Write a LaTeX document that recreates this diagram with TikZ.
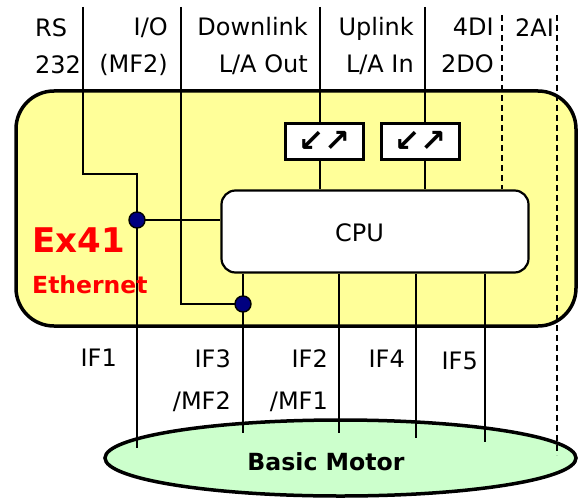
\documentclass[tikz,border=0pt]{standalone}
\usepackage{fontspec}
\setmainfont{DejaVu Sans}
\usetikzlibrary{shapes.geometric}
\definecolor{boxyellow}{HTML}{FFFF99}
\definecolor{motorgreen}{HTML}{CCFFCC}
\definecolor{dotblue}{HTML}{000080}
\begin{document}
\begin{tikzpicture}[x=1pt,y=-1pt,
  lbl/.style={font=\fontsize{24}{37}\selectfont, inner sep=0pt},
  lblb/.style={font=\fontsize{24}{42}\selectfont, inner sep=0pt},
  wire/.style={line width=2pt},
  dwire/.style={line width=2pt, dash pattern=on 6pt off 4pt},
  smallbox/.style={draw, line width=2.2pt, fill=white, minimum width=78pt, minimum height=36pt, inner sep=0pt, font=\bfseries\fontsize{31}{31}\selectfont},
  jdot/.style={circle, draw, line width=1.4pt, fill=dotblue, minimum size=16pt, inner sep=0pt}]
\useasboundingbox (0,0) rectangle (580,500);
% main module
\node[draw, line width=3.5pt, fill=boxyellow, rounded corners=38pt, minimum width=560pt, minimum height=235pt, inner sep=0pt] (ex) at (296,208.5) {};
% motor
\node[ellipse, draw, line width=3.5pt, fill=motorgreen, minimum width=471pt, minimum height=76pt, inner sep=0pt] (motor) at (340.5,458) {};
% cpu and link boxes
\node[draw, line width=2.2pt, fill=white, rounded corners=14pt, minimum width=307pt, minimum height=82pt, inner sep=0pt] (cpu) at (375,231.5) {};
\node[smallbox] (b1) at (324.5,141.5) {↙↗};
\node[smallbox] (b2) at (420.5,141.5) {↙↗};
% coordinates
\coordinate (t1) at (83,7);
\coordinate (t2) at (181,7);
\coordinate (t3) at (320,7);
\coordinate (t4) at (425,7);
\coordinate (t5) at (502,15);
\coordinate (t6) at (557,15);
\coordinate (c1) at (137,220);
\coordinate (c2) at (243,304);
\coordinate (e1) at (137,448);
\coordinate (e2) at (243,433);
\coordinate (e3) at (339,433);
\coordinate (e4) at (416,438);
\coordinate (e5) at (485,442);
\coordinate (e6) at (557,455);
% wires
\draw[wire] (t1) |- (c1 |- 0,174) -- (e1);
\draw[wire] (c1) -- (cpu.west |- c1);
\draw[wire] (t2) |- (c2);
\draw[wire] (cpu.south -| c2) -- (e2);
\draw[wire] (t3) -- (t3 |- b1.north);
\draw[wire] (t3 |- b1.south) -- (t3 |- cpu.north);
\draw[wire] (t4) -- (t4 |- b2.north);
\draw[wire] (t4 |- b2.south) -- (t4 |- cpu.north);
\draw[dwire] (t5) -- (t5 |- cpu.north);
\draw[dwire] (t6) -- (e6);
\draw[wire] (cpu.south -| e3) -- (e3);
\draw[wire] (cpu.south -| e4) -- (e4);
\draw[wire] (cpu.south -| e5) -- (e5);
% junction dots
\node[jdot] (dot1) at (c1) {};
\node[jdot] (dot2) at (c2) {};
% top labels
\node[lbl, anchor=north west, align=left] (lrs) at (35,18) {RS\\232};
\node[lbl, anchor=north east, align=right] (lio) at (168,17) {I/O\\(MF2)};
\node[lbl, anchor=north east, align=right] (ldown) at (308,17) {Downlink\\L/A Out};
\node[lbl, anchor=north east, align=right] (lup) at (414,17) {Uplink\\L/A In};
\node[lbl, anchor=north east, align=right] (ldi) at (494,18) {4DI\\2DO};
\node[lbl, anchor=north west] (lai) at (515,18) {2AI};
% bottom labels
\node[lblb, anchor=north east] (lif1) at (117,349) {IF1};
\node[lblb, anchor=north east, align=right] (lif3) at (231,349) {IF3\\/MF2};
\node[lblb, anchor=north east, align=right] (lif2) at (328,349) {IF2\\/MF1};
\node[lblb, anchor=north east] (lif4) at (405,350) {IF4};
\node[lblb, anchor=north east] (lif5) at (478,352) {IF5};
% inner texts
\node[anchor=base west, text=red, inner sep=0pt, font=\bfseries\fontsize{34}{34}\selectfont] (tex) at (32,252) {Ex41};
\node[anchor=base west, text=red, inner sep=0pt, font=\bfseries\fontsize{23.5}{23.5}\selectfont] (teth) at (32,293) {Ethernet};
\node[anchor=base, inner sep=0pt, font=\fontsize{24}{24}\selectfont] (tcpu) at (359.5,241) {CPU};
\node[anchor=base, inner sep=0pt, font=\bfseries\fontsize{23.6}{23.6}\selectfont] (tmot) at (326,470) {Basic Motor};
\end{tikzpicture}
\end{document}
